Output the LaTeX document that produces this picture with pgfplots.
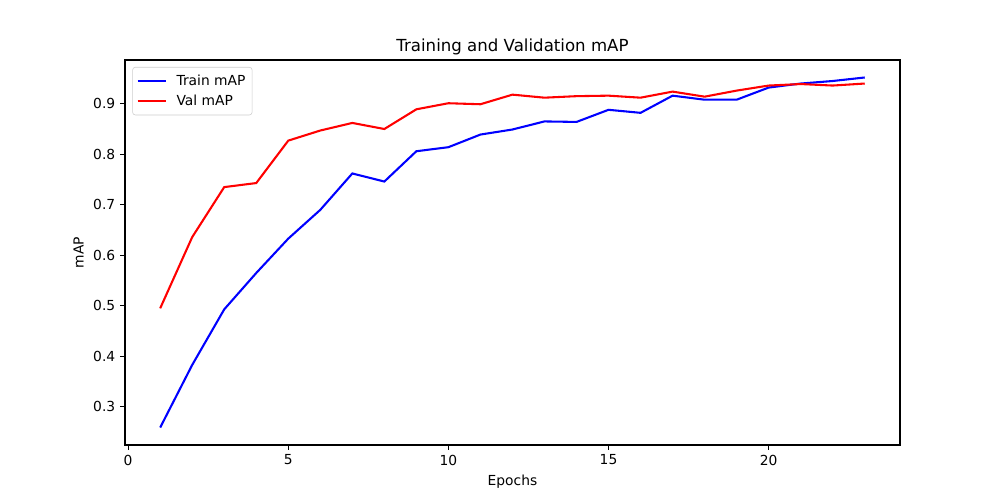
\documentclass[border=0pt]{standalone}
\usepackage{pgfplots}
\pgfplotsset{compat=1.18}
\usepackage{fontspec}
\setmainfont{DejaVu Sans}
\begin{document}
\begin{tikzpicture}[x=1pt,y=1pt]
\path[use as bounding box] (0,0) rectangle (722.7,361.35);
\begin{axis}[
  at={(90.3pt,39.75pt)}, anchor=south west,
  scale only axis, width=560.1pt, height=278.2pt,
  xmin=-0.1, xmax=24.1, ymin=0.2245, ymax=0.9865,
  xtick={0,5,10,15,20}, ytick={0.3,0.4,0.5,0.6,0.7,0.8,0.9},
  yticklabel style={/pgf/number format/fixed,/pgf/number format/precision=1,/pgf/number format/fixed zerofill},
  /pgf/number format/assume math mode=true,
  tick align=outside, tick pos=left, major tick length=3.5pt,
  tick style={line width=0.8pt,black},
  axis line style={line width=0.8pt},
  ticklabel style={font=\fontsize{10}{12}\selectfont},
  title={Training and Validation mAP},
  title style={font=\fontsize{12}{14}\selectfont, yshift=-6pt},
  xlabel={Epochs}, ylabel={mAP},
  label style={font=\fontsize{10}{12}\selectfont},
  legend style={at={(0.0095,0.982)}, anchor=north west, draw=black!20, rounded corners=2pt,
    font=\fontsize{10}{12}\selectfont, inner xsep=2.8pt, inner ysep=3.4pt, row sep=1.5pt,
    column sep=5pt},
  legend cell align=left,
  legend image code/.code={\draw[#1] (0pt,0pt) -- (20.5pt,0pt);},
]
\addplot[blue, line width=1.5pt] coordinates {
(1,0.259)(2,0.383)(3,0.493)(4,0.565)(5,0.633)(6,0.690)(7,0.762)(8,0.746)(9,0.806)(10,0.814)(11,0.839)(12,0.849)
(13,0.865)(14,0.864)(15,0.888)(16,0.882)(17,0.916)(18,0.908)(19,0.908)(20,0.932)(21,0.940)(22,0.945)(23,0.952)};
\addlegendentry{Train mAP}
\addplot[red, line width=1.5pt] coordinates {
(1,0.495)(2,0.636)(3,0.735)(4,0.743)(5,0.827)(6,0.847)(7,0.862)(8,0.850)(9,0.889)(10,0.901)(11,0.899)(12,0.918)
(13,0.912)(14,0.915)(15,0.916)(16,0.912)(17,0.924)(18,0.914)(19,0.926)(20,0.936)(21,0.939)(22,0.936)(23,0.940)};
\addlegendentry{Val mAP}
\end{axis}
\end{tikzpicture}
\end{document}
